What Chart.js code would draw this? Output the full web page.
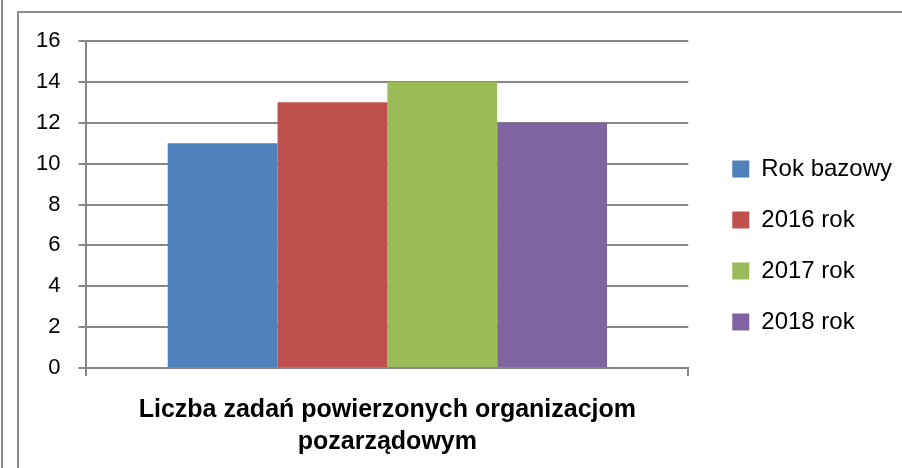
<!DOCTYPE html>
<html>
<head>
<meta charset="utf-8">
<script src="https://cdn.jsdelivr.net/npm/chart.js@4/dist/chart.umd.min.js"></script>
<style>
  html, body { margin: 0; padding: 0; background: #fff; }
  .edge { position: absolute; left: 1px; top: 0; width: 2px; height: 468px; background: #8c8c8c; }
  .frame {
    position: absolute; left: 17px; top: 11px; width: 885px; height: 457px;
    border-left: 2px solid #8c8c8c; border-top: 2px solid #8c8c8c; box-sizing: border-box;
  }
  .frame canvas { display: block; }
</style>
</head>
<body>
<div class="edge"></div>
<div class="frame"><canvas id="myChart" width="883" height="455"></canvas></div>
<script>
const categories = [['Liczba zadań powierzonych organizacjom', 'pozarządowym']];
const seriesNames = ['Rok bazowy', '2016 rok', '2017 rok', '2018 rok'];
const seriesValues = [[11], [13], [14], [12]];
const seriesColors = ['#4F81BD', '#C0504D', '#9BBB59', '#8064A2'];
const yTicks = [0, 2, 4, 6, 8, 10, 12, 14, 16];

const gridColor = '#868686';
const font = 'Liberation Sans, Arial, sans-serif';
const legendShiftX = 17;
const legendShiftY = 10;

// push the legend away from the plot after layout, keeping its row spacing
const legendGap = {
    id: 'legendGap',
    afterLayout(chart) {
        const lg = chart.legend;
        if (lg) {
            lg.left += legendShiftX;
            lg.right += legendShiftX;
            lg.top += legendShiftY;
            lg.bottom += legendShiftY;
        }
    }
};

const ctx = document.getElementById('myChart');

new Chart(ctx, {
    type: 'bar',
    data: {
        labels: categories,
        datasets: seriesNames.map((name, i) => ({
            label: name,
            data: seriesValues[i],
            backgroundColor: seriesColors[i],
            borderWidth: 0
        }))
    },
    plugins: [legendGap],
    options: {
        responsive: false,
        animation: false,
        categoryPercentage: 0.73,
        barPercentage: 1,
        layout: {
            padding: { left: 17, top: 0, right: 17, bottom: 10 }
        },
        plugins: {
            tooltip: { enabled: false },
            legend: {
                position: 'right',
                labels: {
                    color: '#000',
                    boxWidth: 17,
                    boxHeight: 17,
                    padding: 27,
                    font: { family: font, size: 24 }
                }
            }
        },
        scales: {
            x: {
                // tick padding is counted twice by fit(), keep it once
                afterFit: s => {
                    s.height -= s.options.ticks.padding;
                    s.paddingLeft = 0;
                    s.paddingRight = 0;
                },
                border: { color: gridColor, width: 2 },
                grid: {
                    offset: true,
                    drawOnChartArea: false,
                    drawTicks: true,
                    tickLength: 8,
                    color: gridColor,
                    lineWidth: 2
                },
                ticks: {
                    color: '#000',
                    padding: 18,
                    maxRotation: 0,
                    minRotation: 0,
                    font: { family: font, size: 25, weight: 'bold', lineHeight: 1.28 }
                }
            },
            y: {
                min: 0,
                max: 16,
                afterBuildTicks: axis => {
                    axis.ticks = yTicks.map(v => ({ value: v }));
                },
                afterFit: s => {
                    s.width -= s.options.ticks.padding;
                    s.paddingTop = 28;
                    s.paddingBottom = 0;
                },
                border: { color: gridColor, width: 2 },
                grid: {
                    color: gridColor,
                    lineWidth: 2,
                    tickLength: 8
                },
                ticks: {
                    color: '#000',
                    padding: 18,
                    font: { family: font, size: 22 }
                }
            }
        }
    }
});
</script>
</body>
</html>
